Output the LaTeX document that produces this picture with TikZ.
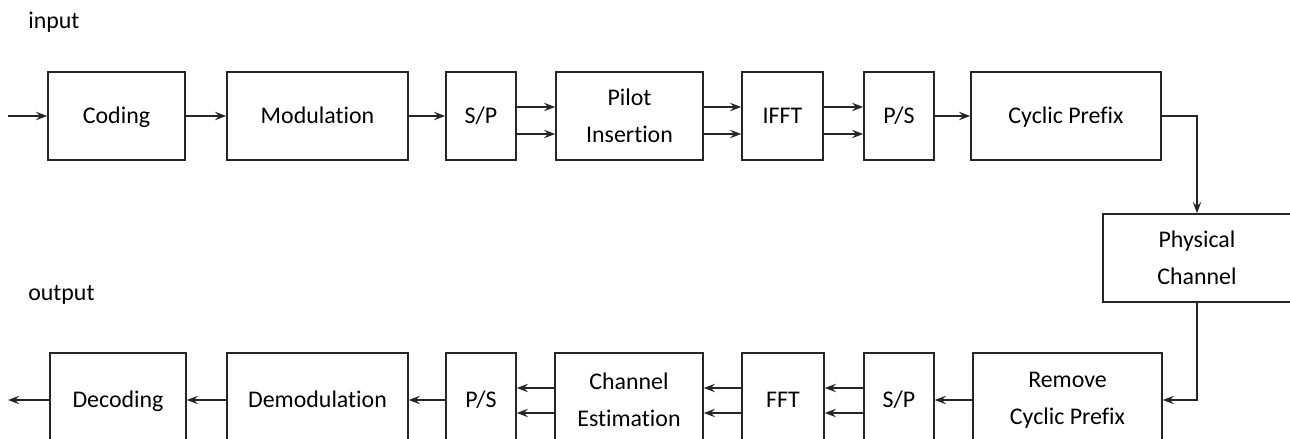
\documentclass[tikz,border=0pt]{standalone}
\usepackage{fontspec}
\setmainfont{Carlito}[Ligatures=NoCommon]
\usetikzlibrary{arrows.meta,calc}

\tikzset{
  blk/.style={rectangle, draw=black!85, line width=1.1pt, align=center, inner sep=0pt,
    font=\fontsize{17}{26}\selectfont, minimum height=2.2cm},
  lowblk/.style={blk, minimum height=2.35cm},
  lbl/.style={anchor=west, inner sep=0pt, font=\fontsize{17}{26}\selectfont},
  ln/.style={draw=black!85, line width=1.1pt, -{Stealth[length=8pt, width=6pt, inset=3pt]}},
}

\begin{document}
\begin{tikzpicture}[x=0.025cm, y=-0.025cm]
\clip (0,0) rectangle (1290,439);

% transmitter
\node[lbl] (inlbl) at (28,22) {input};
\node[blk, minimum width=3.425cm] (coding) at (116.5,116) {\strut Coding};
\node[blk, minimum width=4.525cm] (modul) at (317.5,116) {\strut Modulation};
\node[blk, minimum width=1.75cm] (sp1) at (481,116) {\strut S/P};
\node[blk, minimum width=3.675cm] (pilot) at (629.5,116) {Pilot\\Insertion};
\node[blk, minimum width=2.025cm] (ifft) at (782.5,116) {\strut IFFT};
\node[blk, minimum width=1.75cm] (ps1) at (899,116) {\strut P/S};
\node[blk, minimum width=4.75cm] (cp) at (1066,116) {\strut Cyclic Prefix};

% channel
\node[blk, minimum width=4.7cm] (chan) at (1197,258) {Physical\\Channel};

% receiver
\node[lbl] (outlbl) at (28,295) {output};
\node[lowblk, minimum width=4.725cm] (rcp) at (1067.5,400) {Remove\\Cyclic Prefix};
\node[lowblk, minimum width=1.75cm] (sp2) at (899,400) {\strut S/P};
\node[lowblk, minimum width=2.05cm] (fft) at (783,400) {\strut FFT};
\node[lowblk, minimum width=3.7cm] (chest) at (629,400) {Channel\\Estimation};
\node[lowblk, minimum width=1.75cm] (ps2) at (481,400) {\strut P/S};
\node[lowblk, minimum width=4.525cm] (demod) at (317.5,400) {\strut Demodulation};
\node[lowblk, minimum width=3.4cm] (decod) at (118,400) {\strut Decoding};

\coordinate (src) at (8,116);
\coordinate (snk) at (8,400);

% top row
\draw[ln] (src) -- (coding.west);
\draw[ln] (coding.east) -- (modul.west);
\draw[ln] (modul.east) -- (sp1.west);
\foreach \d in {-9,18} {
  \draw[ln] ($(sp1.east)+(0,\d)$) -- ($(pilot.west)+(0,\d)$);
  \draw[ln] ($(pilot.east)+(0,\d)$) -- ($(ifft.west)+(0,\d)$);
  \draw[ln] ($(ifft.east)+(0,\d)$) -- ($(ps1.west)+(0,\d)$);
}
\draw[ln] (ps1.east) -- (cp.west);
\draw[ln] (cp.east) -| (chan.north);
\draw[ln] (chan.south) |- (rcp.east);

% bottom row
\draw[ln] (rcp.west) -- (sp2.east);
\foreach \d in {-12,13} {
  \draw[ln] ($(sp2.west)+(0,\d)$) -- ($(fft.east)+(0,\d)$);
  \draw[ln] ($(fft.west)+(0,\d)$) -- ($(chest.east)+(0,\d)$);
  \draw[ln] ($(chest.west)+(0,\d)$) -- ($(ps2.east)+(0,\d)$);
}
\draw[ln] (ps2.west) -- (demod.east);
\draw[ln] (demod.west) -- (decod.east);
\draw[ln] (decod.west) -- (snk);
\end{tikzpicture}
\end{document}
